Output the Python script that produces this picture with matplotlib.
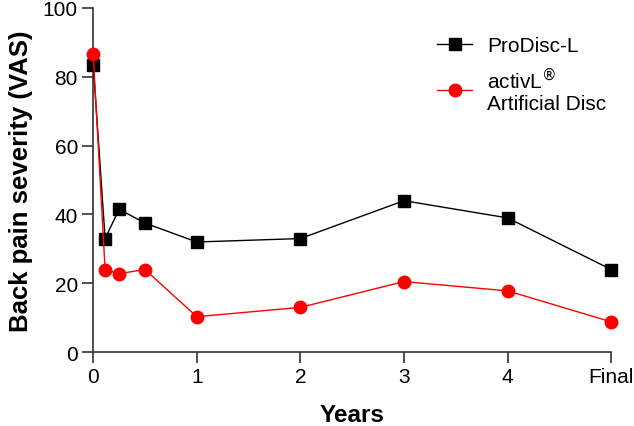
import matplotlib
matplotlib.use("Agg")
from matplotlib import pyplot as plt

plt.rcParams['font.family'] = ['Liberation Sans', 'DejaVu Sans']

# follow-up times in years (6 wk, 3 mo, 6 mo, 1..4 yr, final = 5)
years = [0, 0.115, 0.25, 0.5, 1, 2, 3, 4, 5]
prodisc = [83.5, 33, 41.5, 37.5, 32, 33, 44, 39, 24]
activl = [86.5, 24, 22.8, 24, 10.3, 13, 20.5, 17.8, 8.8]

xtick_pos = [0, 1, 2, 3, 4, 5]
xtick_labels = ["0", "1", "2", "3", "4", "Final"]

fig = plt.figure(figsize=(6.34, 4.27), dpi=100)
ax = fig.add_axes([0.147, 0.173, 0.817, 0.806])

ax.plot(years, prodisc, color='black', marker='s', markersize=9,
        linewidth=1, label='ProDisc-L', clip_on=False, zorder=3)
ax.plot(years, activl, color='red', marker='o', markersize=9,
        linewidth=1, label='activL$^{\\circledR}$\nArtificial Disc',
        clip_on=False, zorder=3)

ax.set_xlim(0, 5)
ax.set_ylim(0, 100)
ax.set_xticks(xtick_pos, xtick_labels)
ax.set_yticks([0, 20, 40, 60, 80, 100])

for side in ['top', 'right']:
    ax.spines[side].set_visible(False)
for side in ['left', 'bottom']:
    ax.spines[side].set_linewidth(1.2)
    ax.spines[side].set_color('#333333')
ax.tick_params(labelsize=15, width=1.2, length=8, color='#333333', pad=3)

ax.set_xlabel("Years", fontsize=17.5, fontweight='bold', labelpad=12)
ax.set_ylabel("Back pain severity (VAS)", fontsize=18.5, fontweight='bold',
              labelpad=7)

ax.legend(loc='upper left', bbox_to_anchor=(437 / 634, 1 - 37 / 427),
          bbox_transform=fig.transFigure, frameon=False, fontsize=15,
          handlelength=1.7, handletextpad=0.7, borderpad=0,
          borderaxespad=0, labelspacing=0.5)

fig.savefig("out.png", dpi=100)
